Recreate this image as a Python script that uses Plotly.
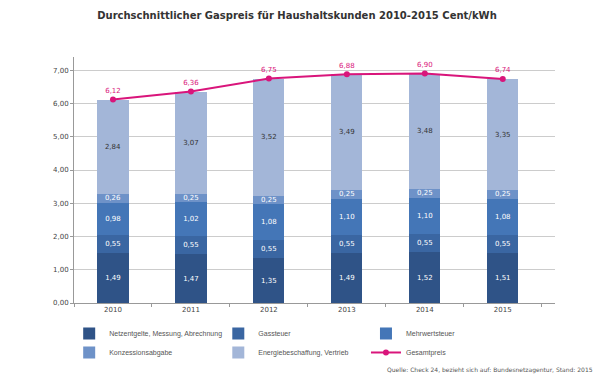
import plotly.graph_objects as go

years = ["2010", "2011", "2012", "2013", "2014", "2015"]
netzentgelte = [1.49, 1.47, 1.35, 1.49, 1.52, 1.51]
gassteuer = [0.55, 0.55, 0.55, 0.55, 0.55, 0.55]
mehrwertsteuer = [0.98, 1.02, 1.08, 1.10, 1.10, 1.08]
konzession = [0.26, 0.25, 0.25, 0.25, 0.25, 0.25]
energie = [2.84, 3.07, 3.52, 3.49, 3.48, 3.35]
gesamtpreis = [6.12, 6.36, 6.75, 6.88, 6.90, 6.74]

series = [
    ("Netzentgelte, Messung, Abrechnung", netzentgelte, "#2f5387", "white", "legend"),
    ("Gassteuer", gassteuer, "#3a66a2", "white", "legend2"),
    ("Mehrwertsteuer", mehrwertsteuer, "#4476b7", "white", "legend3"),
    ("Konzessionsabgabe", konzession, "#6e92c8", "white", "legend"),
    ("Energiebeschaffung, Vertrieb", energie, "#a3b6d8", "#333333", "legend2"),
]

FONT = "DejaVu Sans"
LFONT = "Liberation Sans"
fig = go.Figure()
for name, vals, col, tcol, leg in series:
    fig.add_trace(go.Bar(
        x=years, y=vals, name=name, marker=dict(color=col, line=dict(width=0)),
        width=0.4, texttemplate="%{y:.2f}", textposition="inside",
        insidetextanchor="middle", textangle=0, constraintext="none",
        textfont=dict(color=tcol, size=7, family=FONT), legend=leg,
    ))

fig.add_trace(go.Scatter(
    x=years, y=gesamtpreis, name="Gesamtpreis", mode="lines+markers+text",
    line=dict(color="#d9157b", width=2), marker=dict(color="#d9157b", size=6),
    texttemplate="%{y:.2f}", textposition="top center",
    textfont=dict(color="#d9157b", size=7, family=FONT), cliponaxis=False,
    legend="legend3",
))

leg_common = dict(orientation="v", y=-0.065, yanchor="top", traceorder="normal",
                  itemwidth=30, font=dict(size=7, color="#555555", family=LFONT),
                  bgcolor="rgba(0,0,0,0)", tracegroupgap=0)

fig.update_layout(
    width=600, height=382, barmode="stack", separators=",.",
    plot_bgcolor="white", paper_bgcolor="white",
    margin=dict(l=74, r=45, t=57, b=79, autoexpand=False),
    font=dict(family=FONT, size=7, color="#555555"),
    title=dict(text="<b>Durchschnittlicher Gaspreis für Haushaltskunden 2010-2015 Cent/kWh</b>",
               x=0.495, xanchor="center", y=0.96, yanchor="middle",
               font=dict(size=10, color="#333333", family=FONT)),
    xaxis=dict(type="category", range=[-0.5, 5.67], showgrid=False,
               showline=True, linecolor="#999999", linewidth=1,
               ticks="outside", tickson="boundaries", ticklen=3, tickcolor="#999999",
               tickfont=dict(size=7, color="#444444", family=FONT),
               fixedrange=True),
    yaxis=dict(range=[0, 7.4], dtick=1, tickformat=".2f", showgrid=True,
               gridcolor="#cccccc", gridwidth=1, showline=True, linecolor="#999999",
               zeroline=False, ticks="outside", ticklen=3, tickcolor="#999999",
               tickfont=dict(size=7, color="#444444")),
    legend=dict(x=-0.01, xanchor="left", **leg_common),
    legend2=dict(x=0.30, xanchor="left", **leg_common),
    legend3=dict(x=0.607, xanchor="left", **leg_common),
    showlegend=True,
)

fig.add_annotation(text="Quelle: Check 24, bezieht sich auf: Bundesnetzagentur, Stand: 2015",
                   xref="paper", yref="paper", x=1.083, y=-0.272, xanchor="right",
                   yanchor="middle", showarrow=False,
                   font=dict(size=6, color="#555555", family=FONT))

fig.write_html("out.html", config={"displayModeBar": False},
               post_script="document.body.style.margin='0';")
